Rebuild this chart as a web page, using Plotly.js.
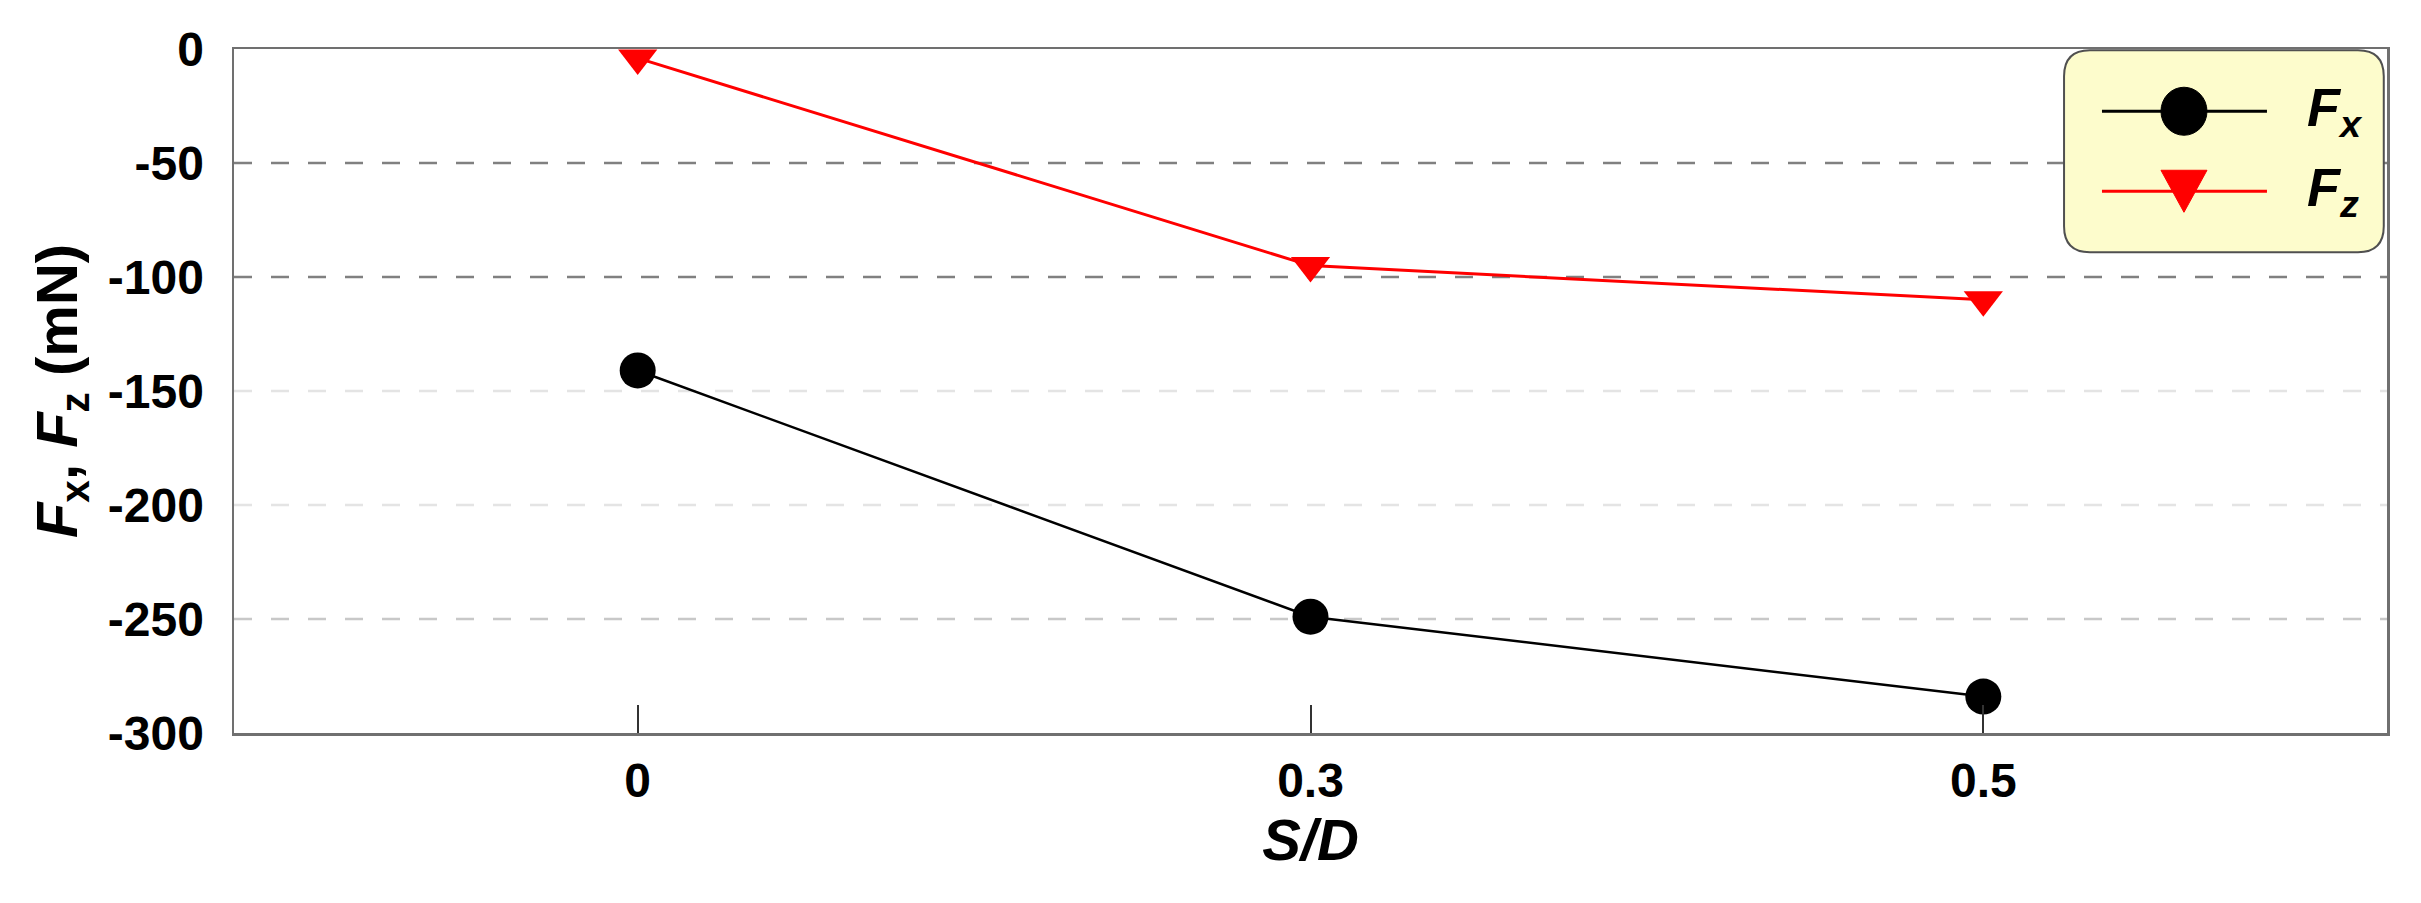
<!DOCTYPE html>
<html>
<head>
<meta charset="utf-8">
<script src="https://cdn.plot.ly/plotly-3.0.1.min.js"></script>
<style>
  html, body { margin: 0; padding: 0; background: #fff; }
  #chart { width: 2421px; height: 903px; }
</style>
</head>
<body>
<div id="chart"></div>
<script>
// S/D categories and measured forces (mN)
const ratios = ['0', '0.3', '0.5'];
const fxValues = [-141, -249, -284];
const fzValues = [-4, -95, -110];

const yTickVals = [0, -50, -100, -150, -200, -250, -300];
const yTickText = ['0', '-50', '-100', '-150', '-200', '-250', '-300'];
// the dashed reference lines are not all the same grey in the original
const gridColors = { '-50': '#808080', '-100': '#808080', '-150': '#e4e4e4', '-200': '#e4e4e4', '-250': '#c8c8c8' };

const FONT = 'Liberation Sans, Arial, sans-serif';

const traceFx = {
  x: ratios,
  y: fxValues,
  mode: 'lines+markers',
  type: 'scatter',
  name: 'Fx',
  line: { color: '#000000', width: 2.5 },
  marker: { symbol: 'circle', size: 36, color: '#000000' }
};

const traceFz = {
  x: ratios,
  y: fzValues,
  mode: 'lines+markers',
  type: 'scatter',
  name: 'Fz',
  line: { color: '#ff0000', width: 3 },
  marker: { symbol: 'triangle-down', size: 34, color: '#ff0000' }
};

// dashed horizontal reference lines
const shapes = [];
yTickVals.forEach(v => {
  if (gridColors[v] === undefined) return;
  shapes.push({
    type: 'line', layer: 'below', xref: 'paper', yref: 'y',
    x0: 0, x1: 1, y0: v, y1: v,
    line: { color: gridColors[v], width: 2.5, dash: '18px,19px' }
  });
});

// legend drawn by hand: rounded yellow box, symbols, labels
const bx0 = 0.850, bx1 = 0.9985, by0 = 0.703, by1 = 0.998, rx = 0.012, ry = 0.038;
shapes.push({
  type: 'path', layer: 'below', xref: 'paper', yref: 'paper',
  path: `M${bx0 + rx},${by1} L${bx1 - rx},${by1} Q${bx1},${by1} ${bx1},${by1 - ry} ` +
        `L${bx1},${by0 + ry} Q${bx1},${by0} ${bx1 - rx},${by0} ` +
        `L${bx0 + rx},${by0} Q${bx0},${by0} ${bx0},${by0 + ry} ` +
        `L${bx0},${by1 - ry} Q${bx0},${by1} ${bx0 + rx},${by1} Z`,
  fillcolor: '#fdfccc',
  line: { color: '#505050', width: 2 }
});

const legendRows = [
  { y: 0.909, color: '#000000', kind: 'circle', label: '<b><i>F<sub>x</sub></i></b>' },
  { y: 0.792, color: '#ff0000', kind: 'tri', label: '<b><i>F<sub>z</sub></i></b>' }
];
const symX = 0.9057;
const annotations = [];
legendRows.forEach(r => {
  shapes.push({
    type: 'line', layer: 'above', xref: 'paper', yref: 'paper',
    xsizemode: 'pixel', ysizemode: 'pixel', xanchor: symX, yanchor: r.y,
    x0: -82, x1: 83, y0: 0, y1: 0,
    line: { color: r.color, width: 3 }
  });
  if (r.kind === 'circle') {
    shapes.push({
      type: 'circle', layer: 'above', xref: 'paper', yref: 'paper',
      xsizemode: 'pixel', ysizemode: 'pixel', xanchor: symX, yanchor: r.y,
      x0: -23, x1: 23, y0: -24, y1: 24,
      fillcolor: r.color, line: { color: r.color, width: 1 }
    });
  } else {
    shapes.push({
      type: 'path', layer: 'above', xref: 'paper', yref: 'paper',
      xsizemode: 'pixel', ysizemode: 'pixel', xanchor: symX, yanchor: r.y,
      path: 'M-23,21 L23,21 L0,-21 Z',
      fillcolor: r.color, line: { color: r.color, width: 1 }
    });
  }
  annotations.push({
    xref: 'paper', yref: 'paper', x: 0.962, y: r.y,
    xanchor: 'left', yanchor: 'middle', showarrow: false,
    text: r.label,
    font: { family: FONT, size: 54, color: '#000000' }
  });
});

const layout = {
  width: 2421,
  height: 903,
  margin: { l: 234, r: 34, t: 49, b: 170 },
  paper_bgcolor: '#ffffff',
  plot_bgcolor: '#ffffff',
  showlegend: false,
  xaxis: {
    type: 'category',
    range: [-0.6, 2.6],
    showgrid: false,
    zeroline: false,
    showline: true,
    mirror: true,
    linecolor: '#707070',
    linewidth: 2.5,
    ticks: 'inside',
    ticklen: 28,
    tickwidth: 2,
    tickcolor: '#333333',
    ticklabelstandoff: 4,
    tickfont: { family: FONT, size: 48, color: '#000000', weight: 'bold' },
    title: {
      text: '<i>S/D</i>',
      standoff: 6,
      font: { family: FONT, size: 58, color: '#000000', weight: 'bold' }
    }
  },
  yaxis: {
    range: [-300, 0],
    tickvals: yTickVals,
    ticktext: yTickText,
    showgrid: false,
    zeroline: false,
    showline: true,
    mirror: true,
    linecolor: '#707070',
    linewidth: 2.5,
    ticks: '',
    ticklabelstandoff: 18,
    tickfont: { family: FONT, size: 48, color: '#000000', weight: 'bold' },
    title: {
      text: '<i>F</i><sub>x</sub>, <i>F</i><sub>z</sub> (mN)',
      standoff: 12,
      font: { family: FONT, size: 58, color: '#000000', weight: 'bold' }
    }
  },
  shapes: shapes,
  annotations: annotations
};

Plotly.newPlot('chart', [traceFx, traceFz], layout, { displayModeBar: false, staticPlot: true });
</script>
</body>
</html>
